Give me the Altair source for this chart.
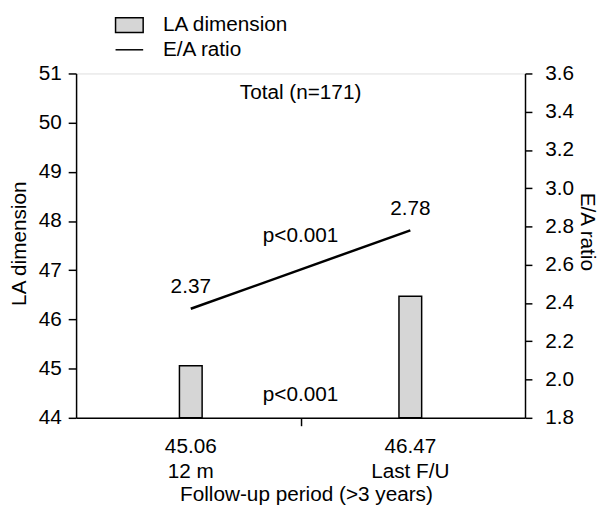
import altair as alt
import pandas as pd

periods = ["12 m", "Last F/U"]
period_pos = [1, 2]
la_dimension = [45.06, 46.47]
ea_ratio = [2.37, 2.78]
series_names = ["LA dimension", "E/A ratio"]
la_ticks = [44, 45, 46, 47, 48, 49, 50, 51]
ea_ticks = [1.8, 2.0, 2.2, 2.4, 2.6, 2.8, 3.0, 3.2, 3.4, 3.6]

FONT = "Liberation Sans"
FS = 21
W, H = 455, 349

df = pd.DataFrame({
    "pos": period_pos,
    "period": periods,
    "la": la_dimension,
    "ea": ea_ratio,
})
df["xlabel"] = [f"{v:.2f}\n{p}" for v, p in zip(la_dimension, periods)]
df["ealabel"] = [f"{v:.2f}" for v in ea_ratio]

notes_left = pd.DataFrame({"pos": [1.5, 1.5], "la": [50.6, 44.46], "txt": ["Total (n=171)", "p<0.001"]})
notes_right = pd.DataFrame({"pos": [1.5], "ea": [2.75], "txt": ["p<0.001"]})
legend_df = pd.DataFrame({"series": series_names})

xscale = alt.Scale(domain=[0.5, 2.5], nice=False, zero=False)
x_axis = alt.Axis(values=[1.5], labels=False, tickSize=8, domainColor="black", tickColor="black",
                  title="Follow-up period (>3 years)", titleX=233, titleY=78, titleBaseline="middle",
                  titleFont=FONT, titleFontSize=FS, titleFontWeight="normal", titleColor="black",
                  grid=False, domainWidth=1.5, tickWidth=1.5)
yl_scale = alt.Scale(domain=[44, 51], nice=False, zero=False)
yr_scale = alt.Scale(domain=[1.8, 3.6], nice=False, zero=False)
yl_axis = alt.Axis(values=la_ticks, title="LA dimension", orient="left",
                   labelFont=FONT, labelFontSize=FS, labelColor="black", labelPadding=7,
                   labelOverlap=False,
                   tickSize=8, tickColor="black", domainColor="black", domainWidth=1.5, tickWidth=1.5,
                   titleFont=FONT, titleFontSize=FS, titleFontWeight="normal", titleColor="black",
                   titleX=-57, titleY=172, titleBaseline="middle", titleAngle=270, grid=False)
yr_axis = alt.Axis(values=ea_ticks, format=".1f",
                   title="E/A ratio", orient="right",
                   labelFont=FONT, labelFontSize=FS, labelColor="black", labelPadding=13,
                   labelOverlap=False,
                   tickSize=7, tickColor="black", domainColor="black", domainWidth=1.5, tickWidth=1.5,
                   titleFont=FONT, titleFontSize=FS, titleFontWeight="normal", titleColor="black",
                   titleX=62, titleY=160, titleBaseline="middle", titleAngle=90, grid=False)

base = alt.Chart(df)

bars = base.mark_bar(size=23, fill="#d6d6d6", stroke="black", strokeWidth=1.5).encode(
    x=alt.X("pos:Q", scale=xscale, axis=x_axis),
    y=alt.Y("la:Q", scale=yl_scale, axis=yl_axis),
    y2=alt.datum(44),
)
xlabels = base.mark_text(font=FONT, fontSize=FS, baseline="top", lineBreak="\n", lineHeight=25,
                         color="black").encode(
    x=alt.X("pos:Q", scale=xscale, axis=x_axis),
    y=alt.value(H + 19),
    text="xlabel:N",
)
left_notes = alt.Chart(notes_left).mark_text(font=FONT, fontSize=FS, color="black").encode(
    x=alt.X("pos:Q", scale=xscale, axis=x_axis),
    y=alt.Y("la:Q", scale=yl_scale, axis=yl_axis),
    text="txt:N",
)
left_layer = alt.layer(bars, xlabels, left_notes)

line = base.mark_line(color="black", strokeWidth=2.5).encode(
    x=alt.X("pos:Q", scale=xscale, axis=x_axis),
    y=alt.Y("ea:Q", scale=yr_scale, axis=yr_axis),
)
ea_labels = base.mark_text(font=FONT, fontSize=FS, dy=-22, color="black").encode(
    x=alt.X("pos:Q", scale=xscale, axis=x_axis),
    y=alt.Y("ea:Q", scale=yr_scale, axis=yr_axis),
    text="ealabel:N",
)
right_notes = alt.Chart(notes_right).mark_text(font=FONT, fontSize=FS, color="black").encode(
    x=alt.X("pos:Q", scale=xscale, axis=x_axis),
    y=alt.Y("ea:Q", scale=yr_scale, axis=yr_axis),
    text="txt:N",
)

leg = alt.Legend(title=None, orient="none", legendX=43, legendY=-60,
                 labelFont=FONT, labelFontSize=FS, labelColor="black",
                 symbolSize=400, symbolStrokeColor="black", symbolStrokeWidth=1.5,
                 labelOffset=23, rowPadding=3, padding=0)
legend_layer = alt.Chart(legend_df).transform_filter("false").mark_point(
    filled=True, strokeWidth=1.5, opacity=1).encode(
    shape=alt.Shape("series:N", scale=alt.Scale(domain=series_names,
                    range=["M-1.4,-0.75H1.4V0.75H-1.4Z", "M-1.4,0H1.4"]), legend=leg),
    fill=alt.Fill("series:N", scale=alt.Scale(domain=series_names, range=["#d6d6d6", "transparent"]),
                  legend=leg),
    stroke=alt.Stroke("series:N", scale=alt.Scale(domain=series_names, range=["black", "black"]),
                      legend=leg),
)
right_layer = alt.layer(line, ea_labels, right_notes, legend_layer)

chart = alt.layer(left_layer, right_layer).resolve_scale(y="independent").properties(
    width=W, height=H,
    autosize=alt.AutoSizeParams(type="none"),
    padding={"left": 69, "top": 63, "right": 76, "bottom": 85},
).configure_view(stroke=None).configure_axis(labelOverlap=False).configure(background="white")

chart.save("out.html", embed_options={"renderer": "svg", "actions": False})
